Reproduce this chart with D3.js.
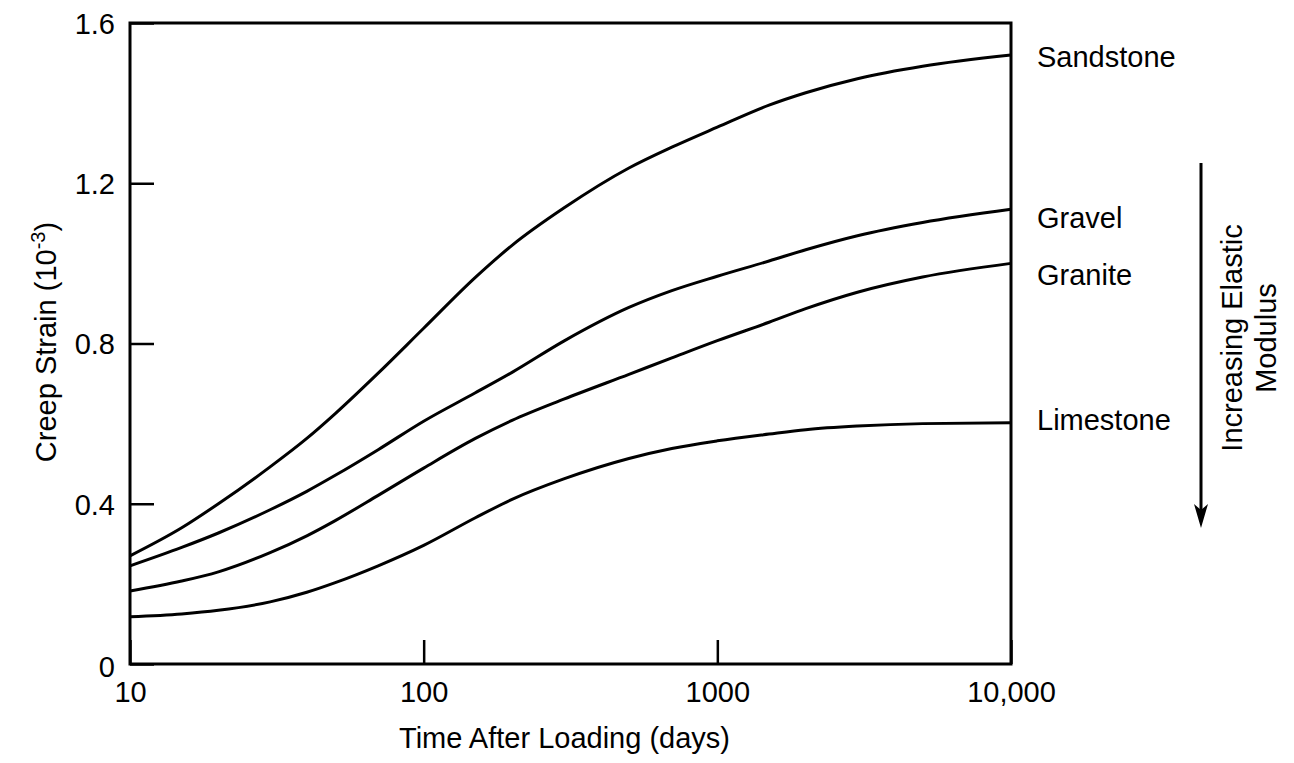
<!DOCTYPE html>
<html>
<head>
<meta charset="utf-8">
<script src="https://cdn.jsdelivr.net/npm/d3@7"></script>
<style>
  body { margin: 0; background: #fff; }
  svg text { font-family: "Liberation Sans", Arial, sans-serif; fill: #000; }
</style>
</head>
<body>
<div id="chart"></div>
<script>
// data
const days = [10, 15, 20, 30, 40, 50, 70, 100, 150, 200, 300, 500, 700, 1000, 1500, 2000, 3000, 5000, 10000];
const sandstone = [0.27, 0.34, 0.4, 0.492, 0.563, 0.625, 0.726, 0.838, 0.965, 1.045, 1.138, 1.238, 1.29, 1.34, 1.395, 1.426, 1.461, 1.492, 1.52];
const gravel = [0.245, 0.291, 0.327, 0.385, 0.431, 0.471, 0.535, 0.606, 0.677, 0.728, 0.806, 0.89, 0.932, 0.968, 1.006, 1.034, 1.069, 1.102, 1.135];
const granite = [0.182, 0.207, 0.23, 0.278, 0.32, 0.358, 0.421, 0.489, 0.563, 0.608, 0.661, 0.723, 0.764, 0.807, 0.853, 0.887, 0.928, 0.966, 1.0];
const limestone = [0.118, 0.125, 0.134, 0.155, 0.179, 0.203, 0.245, 0.296, 0.365, 0.411, 0.462, 0.513, 0.538, 0.557, 0.574, 0.585, 0.594, 0.6, 0.602];
const seriesNames = ["Sandstone", "Gravel", "Granite", "Limestone"];
const xTicks = [10, 100, 1000, 10000];
const xTickLabels = ["10", "100", "1000", "10,000"];
const yTicks = [0, 0.4, 0.8, 1.2, 1.6];
const yTickLabels = ["0", "0.4", "0.8", "1.2", "1.6"];

const series = [sandstone, gravel, granite, limestone];

const W = 1294, H = 763;
const plot = { left: 130, right: 1011, top: 23, bottom: 664 };
const fontSize = "29px";

const svg = d3.select("#chart").append("svg")
  .attr("width", W)
  .attr("height", H);

const xScale = d3.scaleLog().domain([10, 10000]).range([plot.left, plot.right]);
const yScale = d3.scaleLinear().domain([0, 1.6]).range([plot.bottom, plot.top]);

// y axis, ticks point into the plot
const yAxis = svg.append("g")
  .attr("transform", "translate(" + plot.left + ",0)")
  .call(d3.axisLeft(yScale)
    .tickValues(yTicks)
    .tickFormat((d, i) => yTickLabels[i])
    .tickSize(-24)
    .tickPadding(15));
yAxis.select(".domain").remove();
yAxis.selectAll(".tick line").attr("stroke", "#000").attr("stroke-width", 2.5);
yAxis.selectAll(".tick text").style("font-size", fontSize).attr("dy", "0.36em");
yAxis.selectAll(".tick text").filter((d) => d === 0).attr("dy", "0.42em");

// x axis
const xAxis = svg.append("g")
  .attr("transform", "translate(0," + plot.bottom + ")")
  .call(d3.axisBottom(xScale)
    .tickValues(xTicks)
    .tickFormat((d, i) => xTickLabels[i])
    .tickSize(-24)
    .tickPadding(17));
xAxis.select(".domain").remove();
xAxis.selectAll(".tick line").attr("stroke", "#000").attr("stroke-width", 2.5);
xAxis.selectAll(".tick text").style("font-size", fontSize);

// frame
svg.append("rect")
  .attr("x", plot.left)
  .attr("y", plot.top)
  .attr("width", plot.right - plot.left)
  .attr("height", plot.bottom - plot.top)
  .attr("fill", "none")
  .attr("stroke", "#000")
  .attr("stroke-width", 3);

// curves
const line = d3.line()
  .curve(d3.curveMonotoneX)
  .x((d, i) => xScale(days[i]))
  .y((d) => yScale(d));

svg.selectAll(".curve")
  .data(series)
  .enter()
  .append("path")
  .attr("class", "curve")
  .attr("d", line)
  .attr("fill", "none")
  .attr("stroke", "#000")
  .attr("stroke-width", 3);

// labels at the right end of each curve (small nudges as in the figure)
const labelNudge = [2, 8, 11, -3];
svg.selectAll(".curve-label")
  .data(series)
  .enter()
  .append("text")
  .attr("class", "curve-label")
  .attr("x", plot.right + 26)
  .attr("y", (d, i) => yScale(d[d.length - 1]) + labelNudge[i])
  .attr("dy", "0.36em")
  .style("font-size", fontSize)
  .text((d, i) => seriesNames[i]);

// axis titles
svg.append("text")
  .attr("x", (plot.left + plot.right) / 2 - 6)
  .attr("y", 748)
  .attr("text-anchor", "middle")
  .style("font-size", fontSize)
  .text("Time After Loading (days)");

const yTitle = svg.append("text")
  .attr("transform", "translate(56,342) rotate(-90)")
  .attr("text-anchor", "middle")
  .style("font-size", fontSize);
yTitle.append("tspan").text("Creep Strain (10");
yTitle.append("tspan").attr("dy", "-11").style("font-size", "20px").text("-3");
yTitle.append("tspan").attr("dy", "11").text(")");

// arrow for elastic modulus
const arrowX = 1201;
svg.append("line")
  .attr("x1", arrowX).attr("x2", arrowX)
  .attr("y1", 163).attr("y2", 512)
  .attr("stroke", "#000")
  .attr("stroke-width", 3);
svg.append("path")
  .attr("d", d3.line()([[arrowX - 7, 504], [arrowX, 528], [arrowX + 7, 504], [arrowX, 510]]) + "Z")
  .attr("fill", "#000");

svg.append("text")
  .attr("transform", "translate(1242,338) rotate(-90)")
  .attr("text-anchor", "middle")
  .style("font-size", fontSize)
  .text("Increasing Elastic");
svg.append("text")
  .attr("transform", "translate(1276,338) rotate(-90)")
  .attr("text-anchor", "middle")
  .style("font-size", fontSize)
  .text("Modulus");
</script>
</body>
</html>
